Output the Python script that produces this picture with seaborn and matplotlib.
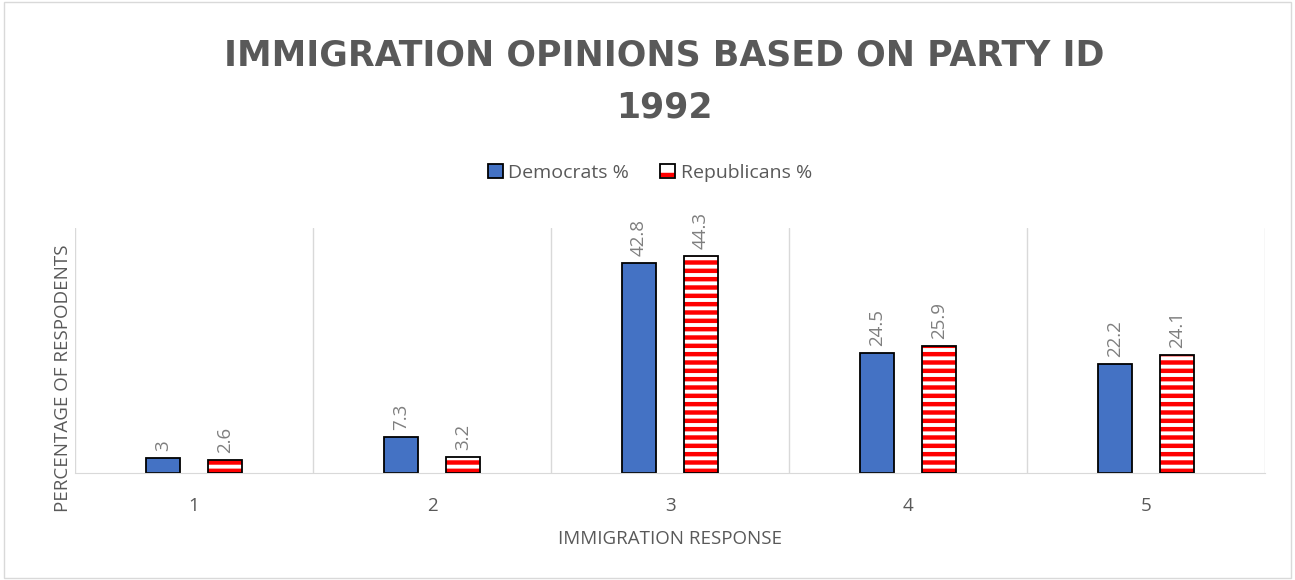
import numpy as np
import pandas as pd
from matplotlib import pyplot as plt
from matplotlib.patches import Patch
from matplotlib.legend_handler import HandlerTuple
import seaborn as sns

# Chart values
responses = ['1', '2', '3', '4', '5']
democrats = [3, 7.3, 42.8, 24.5, 22.2]
republicans = [2.6, 3.2, 44.3, 25.9, 24.1]

df = pd.DataFrame({
    'response': responses * 2,
    'pct': democrats + republicans,
    'party': ['Democrats %'] * 5 + ['Republicans %'] * 5,
})

sns.set_style("white")
plt.rcParams['font.family'] = ['Open Sans', 'DejaVu Sans']
plt.rcParams['hatch.linewidth'] = 3.2
plt.rcParams['hatch.color'] = 'red'

gray = '#595959'
fig = plt.figure(figsize=(12.95, 5.8), dpi=100)
ax = fig.add_axes([75 / 1295, 1 - 473 / 580, (1265 - 75) / 1295, (473 - 228) / 580])

sns.barplot(data=df, x='response', y='pct', hue='party',
            palette=['#4472c4', 'white'], width=0.52, ax=ax,
            legend=False, saturation=1)

# shrink bars, style republicans with red stripes
bar_w = 0.14
n = len(responses)
for i, p in enumerate(ax.patches[:2 * n]):
    c = p.get_x() + p.get_width() / 2
    p.set_width(bar_w)
    p.set_x(c - bar_w / 2)
    p.set_edgecolor('black')
    p.set_linewidth(1.3)
    if i >= n:
        p.set_facecolor('white')
        p.set_hatch('--')
        p.set_edgecolor('red')
        p.set_linewidth(0)
        ax.bar(c, p.get_height(), width=bar_w, facecolor='none',
               edgecolor='black', linewidth=1.3, zorder=3)

# data labels
for i in range(n):
    ax.text(i - 0.13, democrats[i] + 1.5, f'{democrats[i]:g}', rotation=90,
            ha='center', va='bottom', color='#7f7f7f', fontsize=13.5)
    ax.text(i + 0.13, republicans[i] + 1.5, f'{republicans[i]:g}', rotation=90,
            ha='center', va='bottom', color='#7f7f7f', fontsize=13.5)

ax.set_xlim(-0.5, 4.5)
ax.set_ylim(0, 50)
ax.set_yticks([])
for xv in np.arange(0.5, 5.0, 1.0):
    ax.axvline(xv, color='#d9d9d9', lw=1, zorder=0)
ax.axvline(-0.5, color='#d9d9d9', lw=1, zorder=0)
sns.despine(ax=ax, left=True, top=True, right=True)
ax.spines['bottom'].set_color('#d9d9d9')
ax.tick_params(axis='x', length=0, colors=gray, labelsize=13.5, pad=17)

ax.set_xlabel('IMMIGRATION RESPONSE', color=gray, fontsize=13.5, labelpad=11)
ax.set_ylabel('PERCENTAGE OF RESPODENTS', color=gray, fontsize=13.5)
ax.yaxis.set_label_coords(-3 / 1190, 0.388)

fig.text(664 / 1295, 1 - 55 / 580, 'IMMIGRATION OPINIONS BASED ON PARTY ID',
         ha='center', va='center', fontsize=25, fontweight='bold', color=gray,
         family='DejaVu Sans')
fig.text(664 / 1295, 1 - 108 / 580, '1992',
         ha='center', va='center', fontsize=25, fontweight='bold', color=gray,
         family='DejaVu Sans')

# legend
h_dem = Patch(facecolor='#4472c4', edgecolor='black', linewidth=1.3)
h_rep = (Patch(facecolor='white', edgecolor='red', hatch='-', linewidth=0),
         Patch(facecolor='none', edgecolor='black', linewidth=1.3))
leg = fig.legend([h_dem, h_rep], ['Democrats %', 'Republicans %'], loc='center',
                 bbox_to_anchor=(650 / 1295, 1 - 173 / 580), ncol=2, frameon=False,
                 fontsize=14, handlelength=0.75, handleheight=0.75,
                 handletextpad=0.3, columnspacing=1.6, labelcolor=gray,
                 handler_map={tuple: HandlerTuple(ndivide=1)})

fig.patches.append(plt.Rectangle((0.003, 0.003), 0.994, 0.994, transform=fig.transFigure,
                                 fill=False, edgecolor='#d9d9d9', lw=1))

fig.savefig('out.png', dpi=100)
